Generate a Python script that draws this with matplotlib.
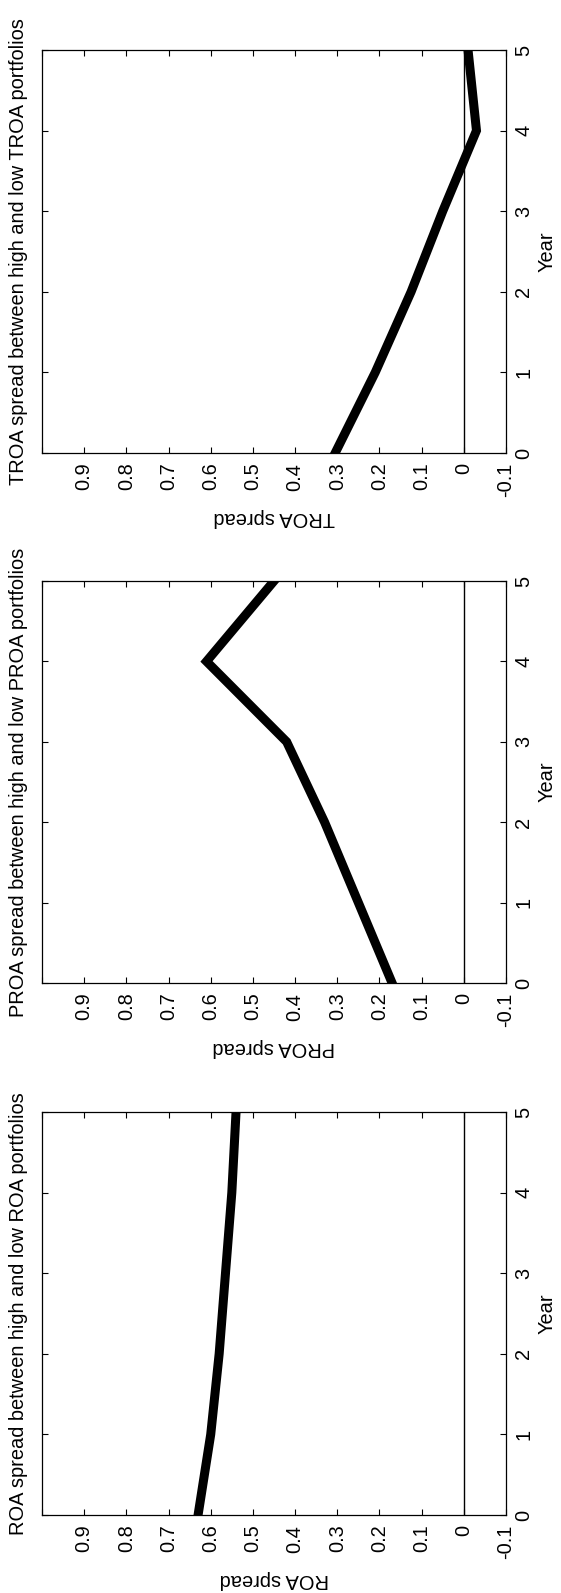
import matplotlib
matplotlib.use("Agg")
import matplotlib.pyplot as plt
import numpy as np

plt.rcParams['font.family'] = ['Liberation Sans', 'DejaVu Sans']
plt.rcParams['font.size'] = 14.4

years = [0, 1, 2, 3, 4, 5]
roa_spread = [0.63, 0.60, 0.58, 0.565, 0.55, 0.54]
proa_spread = [0.17, 0.25, 0.33, 0.42, 0.61, 0.45]
troa_spread = [0.305, 0.21, 0.125, 0.05, -0.03, -0.01]

names = ['TROA', 'PROA', 'ROA']
series = [troa_spread, proa_spread, roa_spread]
spread_ticks = np.round(np.arange(-0.1, 1.01, 0.1), 1)
spread_labels = ['' if t == 1.0 else ('0' if t == 0 else f'{t:g}') for t in spread_ticks]

fig = plt.figure(figsize=(5.61, 15.93), dpi=100)
W, H = 561, 1593
# panel boxes in pixel coords of the picture: (left, top, right, bottom)
boxes = [(42, 50, 506, 453), (42, 581, 506, 983), (42, 1112, 506, 1515)]

for name, vals, (l, t, r, b) in zip(names, series, boxes):
    ax = fig.add_axes([l / W, (H - b) / H, (r - l) / W, (b - t) / H])
    ax.plot(vals, years, color='black', lw=6.5, solid_joinstyle='miter')
    ax.plot([0] * len(years), years, color='black', lw=1)
    ax.set_xlim(1.0, -0.1)
    ax.set_ylim(0, 5)
    ax.set_xticks(spread_ticks)
    ax.set_xticklabels(spread_labels)
    ax.set_yticks(years)
    ax.tick_params(axis='both', direction='in', length=4, width=0.8,
                   top=True, bottom=True, left=True, right=True)
    ax.tick_params(axis='x', labelrotation=90, pad=7)
    ax.tick_params(axis='y', labelleft=False, labelright=True,
                   labelrotation=90, pad=6)
    for lab in ax.get_yticklabels():
        lab.set_verticalalignment('center')
    for s in ax.spines.values():
        s.set_linewidth(0.9)
    ax.set_xlabel(f'{name} spread', rotation=180, labelpad=8)
    ax.yaxis.set_label_position('right')
    ax.set_ylabel('Year', rotation=90, labelpad=3)
    ax.text(-0.05, 0.5, f'{name} spread between high and low {name} portfolios',
            transform=ax.transAxes, rotation=90, ha='center', va='center')

fig.savefig('out.png', dpi=100, facecolor='white')
